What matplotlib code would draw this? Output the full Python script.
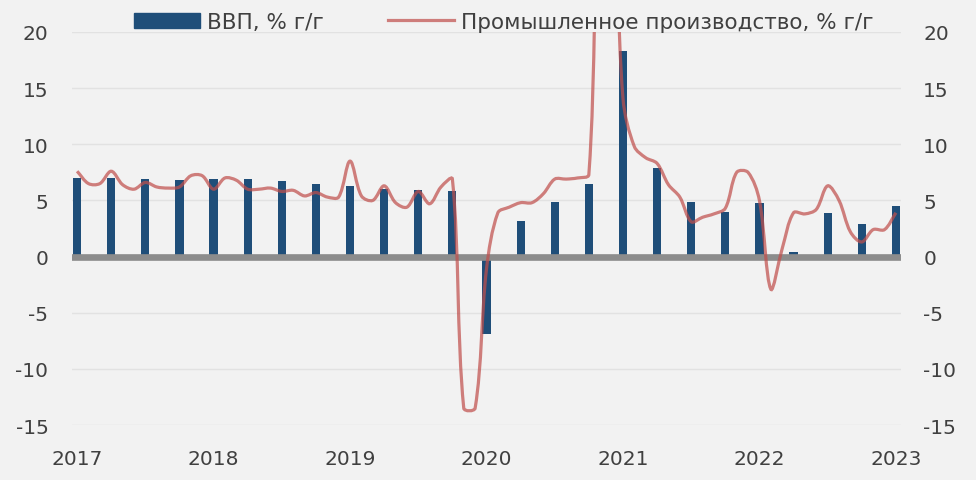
import numpy as np
import matplotlib
matplotlib.use('Agg')
from matplotlib import pyplot as plt
from matplotlib.path import Path
from matplotlib.patches import PathPatch, Patch
from matplotlib.lines import Line2D

# quarterly GDP, % y/y (2017Q1 .. 2023Q1)
gdp = [7.0, 7.0, 6.9, 6.8,
       6.9, 6.9, 6.7, 6.5,
       6.3, 6.0, 5.9, 5.8,
       -6.9, 3.2, 4.9, 6.5,
       18.3, 7.9, 4.9, 4.0,
       4.8, 0.4, 3.9, 2.9,
       4.5]

# monthly industrial production, % y/y (Mar 2017 .. Mar 2023)
ip = [7.6, 6.5, 6.5, 7.6, 6.4, 6.0, 6.6, 6.2, 6.1, 6.2,
      7.2, 7.2, 6.0, 7.0, 6.8, 6.0, 6.0, 6.1, 5.8, 5.9, 5.4, 5.7,
      5.3, 5.3, 8.5, 5.4, 5.0, 6.3, 4.8, 4.4, 5.8, 4.7, 6.2, 6.9,
      -13.5, -13.5, -1.1, 3.9, 4.4, 4.8, 4.8, 5.6, 6.9, 6.9, 7.0, 7.3,
      35.1, 35.1, 14.1, 9.8, 8.8, 8.3, 6.4, 5.3, 3.1, 3.5, 3.8, 4.3,
      7.5, 7.5, 5.0, -2.9, 0.7, 3.9, 3.8, 4.2, 6.3, 5.0, 2.2, 1.3,
      2.4, 2.4, 3.9]

years = ['2017', '2018', '2019', '2020', '2021', '2022', '2023']

BG = '#f2f2f2'
BLUE = '#1f4e79'
RED = '#c0504d'
TXT = '#404040'


def smooth_path(ax, x, y, t=1/3):
    # excel-like smoothed line: bezier segments, tangents split by segment length on screen
    pts = np.column_stack([x, y]).astype(float)
    pix = ax.transData.transform(pts)
    inv = ax.transData.inverted()
    n = len(pts)
    out_c, in_c = [], []
    for i in range(n):
        a = pix[max(i - 1, 0)]
        b = pix[min(i + 1, n - 1)]
        d = b - a
        lp = np.hypot(*(pix[i] - a))
        ln = np.hypot(*(b - pix[i]))
        s = lp + ln if lp + ln > 0 else 1.0
        out_c.append(pix[i] + d * t * ln / s)
        in_c.append(pix[i] - d * t * lp / s)
    verts = [pix[0]]
    codes = [Path.MOVETO]
    for i in range(n - 1):
        verts += [out_c[i], in_c[i + 1], pix[i + 1]]
        codes += [Path.CURVE4] * 3
    return Path(inv.transform(np.array(verts)), codes)


def main():
    plt.rcParams['font.family'] = ['DejaVu Sans']
    plt.rcParams['axes.unicode_minus'] = False
    fig = plt.figure(figsize=(9.76, 4.81), dpi=100, facecolor=BG)
    ax = fig.add_axes([72 / 976, 1 - 426 / 481, (901 - 72) / 976, (426 - 33) / 481])
    ax.set_facecolor(BG)

    ax.set_xlim(-0.15, len(gdp) - 1 + 0.15)
    ax.set_ylim(-15, 20)

    xb = np.arange(len(gdp))
    ax.bar(xb, gdp, width=0.24, color=BLUE, zorder=2)
    ax.axhline(0, color='#8c8c8c', lw=4.8, zorder=3)

    xm = np.arange(len(ip)) / 3.0
    ax.add_patch(PathPatch(smooth_path(ax, xm, ip), fill=False, edgecolor=RED,
                           lw=2.3, alpha=0.72, zorder=4))

    yt = np.arange(-15, 21, 5)
    ax.set_yticks(yt)
    ax.grid(axis='y', color='#e2e2e2', lw=1.0, zorder=0)
    ax.set_xticks(np.arange(0, len(gdp), 4))
    ax.set_xticklabels(years)
    for s in ax.spines.values():
        s.set_visible(False)
    ax.tick_params(axis='x', length=0, pad=17, labelsize=14.5, labelcolor=TXT)
    ax.tick_params(axis='y', length=0, pad=17, labelsize=14.5, labelcolor=TXT)

    ax2 = ax.twinx()
    ax2.set_ylim(ax.get_ylim())
    ax2.set_yticks(yt)
    for s in ax2.spines.values():
        s.set_visible(False)
    ax2.tick_params(axis='y', length=0, pad=16, labelsize=14.5, labelcolor=TXT)

    handles = [Patch(facecolor=BLUE, edgecolor=BLUE),
               Line2D([0], [0], color=RED, lw=2.3, alpha=0.72)]
    labels = ['ВВП, % г/г', 'Промышленное производство, % г/г']
    fig.legend(handles, labels, loc='center', bbox_to_anchor=(0.516, 0.952),
               ncol=2, frameon=False, fontsize=15.5, labelcolor=TXT,
               handlelength=3.07, handleheight=0.75, handletextpad=0.33,
               columnspacing=3.0, borderpad=0)

    fig.savefig('out.png', dpi=100, facecolor=BG)


if __name__ == '__main__':
    main()
